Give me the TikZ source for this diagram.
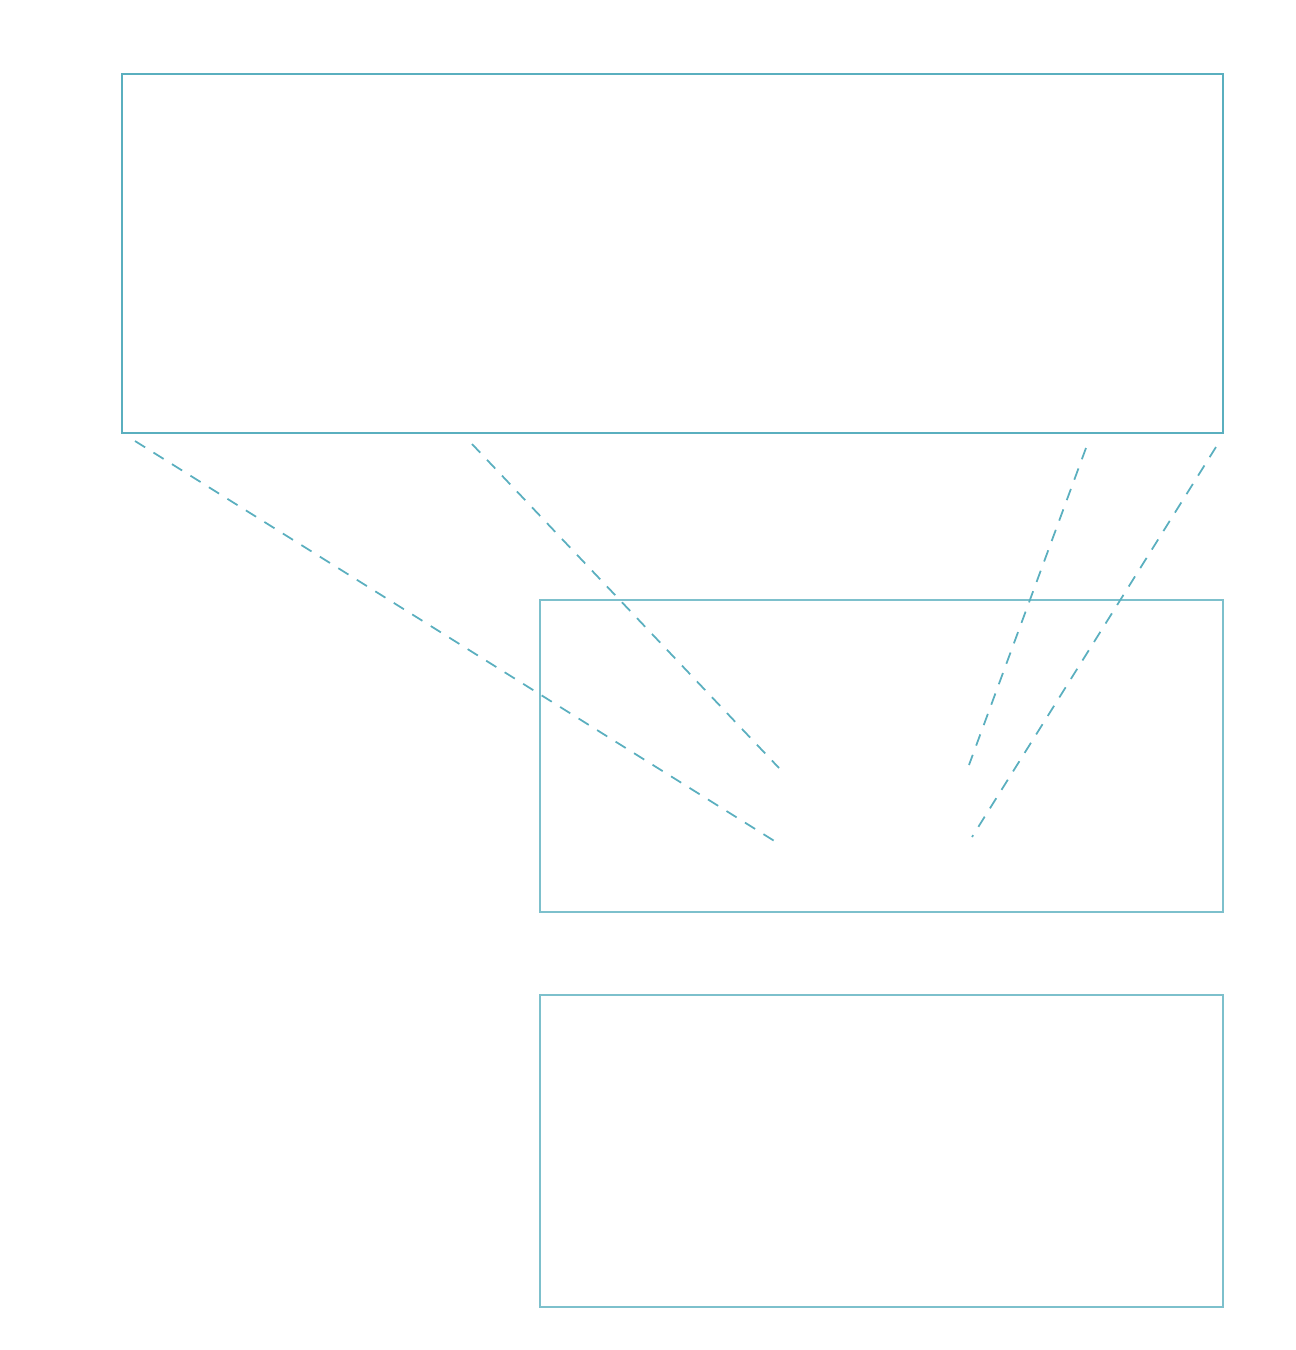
\documentclass[tikz,border=0pt]{standalone}
\definecolor{teal1}{HTML}{5AAFBF}
\definecolor{teal2}{HTML}{7DC0CC}
\tikzset{
  mainbox/.style={draw=teal1, line width=0.5pt},
  subbox/.style={draw=teal2, line width=0.4pt},
  zoomline/.style={draw=teal1, line width=0.5pt, dash pattern=on 3.4pt off 2.8pt}
}
\begin{document}
\begin{tikzpicture}[x=0.01cm,y=-0.01cm]
\useasboundingbox (0,0) rectangle (1296,1350);
\draw[mainbox] (122,74) rectangle (1223,433);
\draw[subbox] (540,600) rectangle (1223,912);
\draw[subbox] (540,995) rectangle (1223,1307);
\coordinate (a1) at (135,441);
\coordinate (a2) at (776,842);
\coordinate (b1) at (472,444);
\coordinate (b2) at (779,768);
\coordinate (c1) at (1086,448);
\coordinate (c2) at (969,765);
\coordinate (d1) at (1216,447);
\coordinate (d2) at (972,837);
\draw[zoomline] (a1) -- (a2);
\draw[zoomline] (b1) -- (b2);
\draw[zoomline] (c1) -- (c2);
\draw[zoomline] (d1) -- (d2);
\end{tikzpicture}
\end{document}
